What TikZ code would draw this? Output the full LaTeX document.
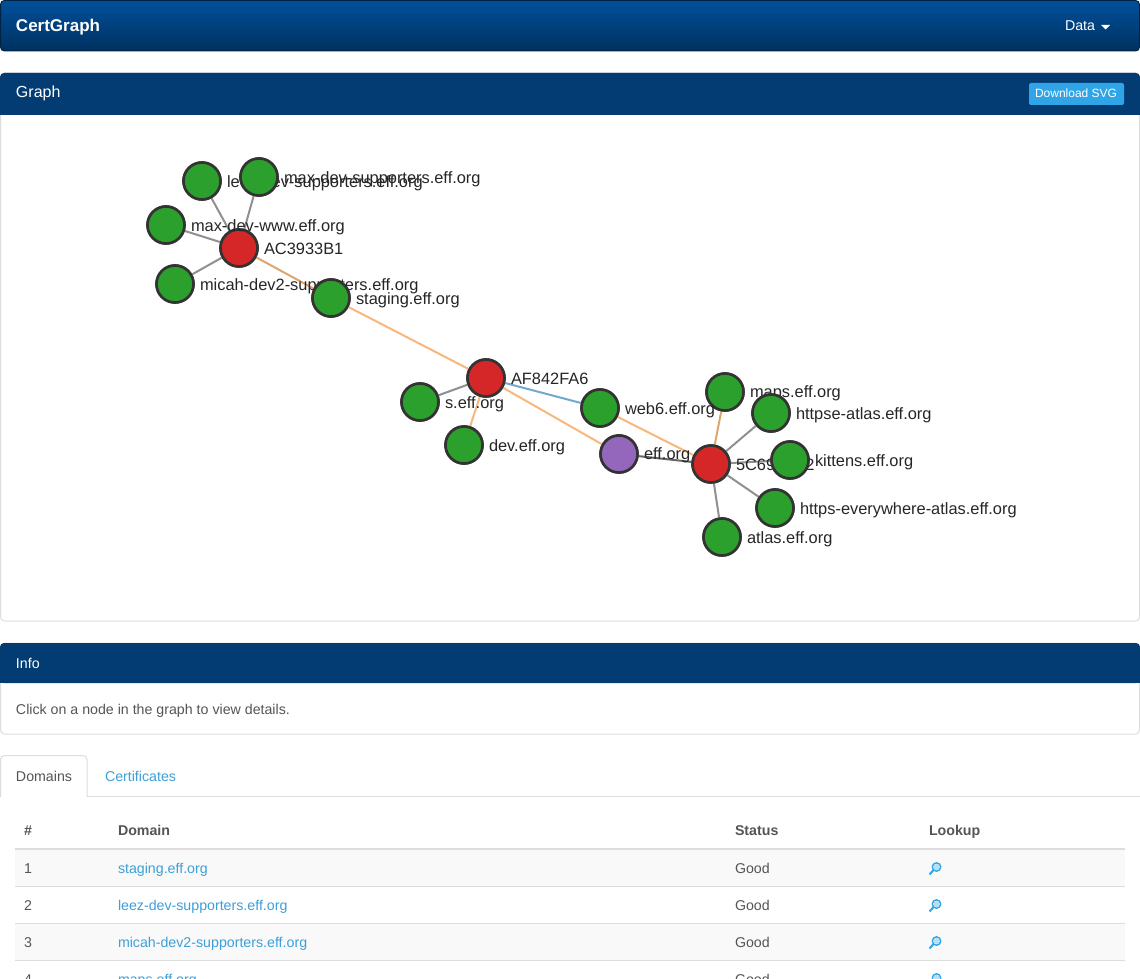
\documentclass[tikz,border=0pt]{standalone}
\usepackage{fontspec}
\setmainfont{Liberation Sans}
\definecolor{navtop}{HTML}{00509C}
\definecolor{navbot}{HTML}{00315F}
\definecolor{headblue}{HTML}{033C73}
\definecolor{linkblue}{HTML}{3D9FD9}
\definecolor{btnblue}{HTML}{2FA4E7}
\definecolor{bodygrey}{HTML}{555555}
\definecolor{rulegrey}{HTML}{DDDDDD}
\definecolor{stripe}{HTML}{F9F9F9}
\definecolor{certgreen}{HTML}{2CA02C}
\definecolor{certred}{HTML}{D62728}
\definecolor{certpurple}{HTML}{9467BD}
\definecolor{edgegrey}{HTML}{909090}
\definecolor{edgedark}{HTML}{666666}
\definecolor{edgeorange}{HTML}{F8B77C}
\definecolor{edgetan}{HTML}{DDA66E}
\definecolor{edgeblue}{HTML}{74A8CC}
\begin{document}
\begin{tikzpicture}[x=1pt,y=-1pt,
  txt/.style={inner sep=0pt,outer sep=0pt,anchor=base west,text=bodygrey,font=\fontsize{14.2}{16}\selectfont},
  link/.style={txt,text=linkblue},
  thead/.style={txt,font=\fontsize{14.2}{16}\selectfont\bfseries},
  glabel/.style={inner sep=0pt,outer sep=0pt,anchor=base west,text=black!85,font=\fontsize{16.4}{18}\selectfont},
  cert/.style={draw=black!80,line width=2.6pt,circle,minimum size=37pt,inner sep=0pt},
  dom/.style={cert,fill=certgreen},
  ca/.style={cert,fill=certred},
  root/.style={cert,fill=certpurple},
  edge/.style={draw=edgegrey,line width=2pt},
  lookup/.pic={
    \draw[btnblue,line width=1.4pt] (1.5,-1) circle (4.2pt);
    \fill[btnblue!35] (1.5,-1) circle (3pt);
    \draw[btnblue,line width=2pt] (-1.5,2) -- (-5.5,6.5);
  }]
\clip (0,0) rectangle (1140,979);
\fill[white] (0,0) rectangle (1140,979);
% navbar
\draw[navbot!70!black,rounded corners=4pt,top color=navtop,bottom color=navbot,line width=1pt] (0.5,0.5) rectangle (1139.5,51);
\node[txt,text=white,font=\fontsize{17}{20}\selectfont\bfseries] (brand) at (16,32) {CertGraph};
\node[txt,text=white] (data) at (1065,31) {Data};
\fill[white] (1101,25) -- (1110,25) -- (1105.5,29.5) -- cycle;
% graph panel
\draw[rulegrey,rounded corners=4pt,line width=1pt] (0.5,73) rectangle (1139.5,621);
\fill[headblue,rounded corners=4pt] (0,115) -- (0,73) -- (1140,73) -- (1140,115) -- cycle;
\fill[headblue] (0,100) rectangle (1140,115);
\node[glabel,text=white,font=\fontsize{16}{18}\selectfont] (graphtitle) at (16,98) {Graph};
\fill[btnblue,rounded corners=2pt] (1029,83) rectangle (1124,105);
\node[txt,text=white,font=\fontsize{12}{14}\selectfont] (download) at (1035,98) {Download SVG};
% nodes first so the edges can use them
\begin{scope}
\path (239,248) node[ca] (ac) {};
\path (711,464) node[ca] (fivec) {};
\path (486,378) node[ca] (af) {};
\path (619,454) node[root] (eff) {};
\path (202,181) node[dom] (leez) {};
\path (259,177) node[dom] (maxsup) {};
\path (166,225) node[dom] (maxwww) {};
\path (175,284) node[dom] (micah) {};
\path (331,298) node[dom] (staging) {};
\path (420,402) node[dom] (s) {};
\path (464,445) node[dom] (dev) {};
\path (600,408) node[dom] (web) {};
\path (725,392) node[dom] (maps) {};
\path (771,413) node[dom] (httpse) {};
\path (790,460) node[dom] (kittens) {};
\path (775,508) node[dom] (everywhere) {};
\path (722,537) node[dom] (atlas) {};
\end{scope}
% edges
\path[edge] (ac) -- (leez);
\path[edge] (ac) -- (maxsup);
\path[edge] (ac) -- (maxwww);
\path[edge] (ac) -- (micah);
\path[edge,draw=edgetan] (ac) -- (staging);
\path[edge,draw=edgeorange] (staging) -- (af);
\path[edge] (af) -- (s);
\path[edge,draw=edgeorange] (af) -- (dev);
\path[edge,draw=edgeblue] (af) -- (web);
\path[edge,draw=edgeorange] (af) -- (eff);
\path[edge,draw=edgeorange] (web) -- (fivec);
\path[edge,draw=edgedark] (eff) -- (fivec);
\path[edge,draw=edgetan] (maps) -- (fivec);
\path[edge] (httpse) -- (fivec);
\path[edge] (kittens) -- (fivec);
\path[edge] (everywhere) -- (fivec);
\path[edge] (atlas) -- (fivec);
% circles and labels in drawing order
\node[ca] (acb) at (ac) {};
\node[glabel] (aclabel) at (264,254) {AC3933B1};
\node[ca] (fivecb) at (fivec) {};
\node[glabel] (fiveclabel) at (736,470) {5C69B1F2};
\node[ca] (afb) at (af) {};
\node[glabel] (aflabel) at (511,384) {AF842FA6};
\node[root] (effb) at (eff) {};
\node[glabel] (efflabel) at (644,459) {eff.org};
\node[dom] (leezb) at (leez) {};
\node[glabel] (leezlabel) at (227,187) {leez-dev-supporters.eff.org};
\node[dom] (maxsupb) at (maxsup) {};
\node[glabel] (maxsuplabel) at (284,183) {max-dev-supporters.eff.org};
\node[dom] (maxwwwb) at (maxwww) {};
\node[glabel] (maxwwwlabel) at (191,231) {max-dev-www.eff.org};
\node[dom] (micahb) at (micah) {};
\node[glabel] (micahlabel) at (200,290) {micah-dev2-supporters.eff.org};
\node[dom] (stagingb) at (staging) {};
\node[glabel] (staginglabel) at (356,304) {staging.eff.org};
\node[dom] (sb) at (s) {};
\node[glabel] (slabel) at (445,408) {s.eff.org};
\node[dom] (devb) at (dev) {};
\node[glabel] (devlabel) at (489,451) {dev.eff.org};
\node[dom] (mapsb) at (maps) {};
\node[glabel] (mapslabel) at (750,397) {maps.eff.org};
\node[dom] (webb) at (web) {};
\node[glabel] (weblabel) at (625,414) {web6.eff.org};
\node[dom] (httpseb) at (httpse) {};
\node[glabel] (httpselabel) at (796,419) {httpse-atlas.eff.org};
\node[dom] (kittensb) at (kittens) {};
\node[glabel] (kittenslabel) at (815,466) {kittens.eff.org};
\node[dom] (everywhereb) at (everywhere) {};
\node[glabel] (everywherelabel) at (800,514) {https-everywhere-atlas.eff.org};
\node[dom] (atlasb) at (atlas) {};
\node[glabel] (atlaslabel) at (747,543) {atlas.eff.org};
% info panel
\draw[rulegrey,rounded corners=4pt,line width=1pt] (0.5,643) rectangle (1139.5,734);
\fill[headblue,rounded corners=4pt] (0,683) -- (0,643) -- (1140,643) -- (1140,683) -- cycle;
\fill[headblue] (0,670) rectangle (1140,683);
\node[txt,text=white] (infotitle) at (16,668) {Info};
\node[txt] (infotext) at (16,714) {Click on a node in the graph to view details.};
% tabs
\draw[rulegrey,line width=1pt] (0,796.5) -- (1140,796.5);
\fill[white] (0.5,790) rectangle (87,797);
\draw[rulegrey,rounded corners=4pt,line width=1pt] (0.5,797) -- (0.5,755.5) -- (87,755.5) -- (87,797);
\node[txt] (domainstab) at (16,781) {Domains};
\node[link] (certstab) at (105,781) {Certificates};
% table
\fill[stripe] (15,849) rectangle (1125,886);
\fill[stripe] (15,923) rectangle (1125,960);
\draw[rulegrey,line width=2.5pt] (15,849) -- (1125,849);
\draw[rulegrey,line width=1pt] (15,886.5) -- (1125,886.5);
\draw[rulegrey,line width=1pt] (15,923.5) -- (1125,923.5);
\draw[rulegrey,line width=1pt] (15,960.5) -- (1125,960.5);
\node[thead] (hnum) at (24,835) {\#};
\node[thead] (hdomain) at (118,835) {Domain};
\node[thead] (hstatus) at (735,835) {Status};
\node[thead] (hlookup) at (929,835) {Lookup};
\node[txt] (num1) at (24,873) {1};
\node[link] (dom1) at (118,873) {staging.eff.org};
\node[txt] (status1) at (735,873) {Good};
\pic at (935,868) {lookup};
\node[txt] (num2) at (24,910) {2};
\node[link] (dom2) at (118,910) {leez-dev-supporters.eff.org};
\node[txt] (status2) at (735,910) {Good};
\pic at (935,905) {lookup};
\node[txt] (num3) at (24,947) {3};
\node[link] (dom3) at (118,947) {micah-dev2-supporters.eff.org};
\node[txt] (status3) at (735,947) {Good};
\pic at (935,942) {lookup};
\node[txt] (num4) at (24,984) {4};
\node[link] (dom4) at (118,984) {maps.eff.org};
\node[txt] (status4) at (735,984) {Good};
\pic at (935,979) {lookup};
\end{tikzpicture}
\end{document}
